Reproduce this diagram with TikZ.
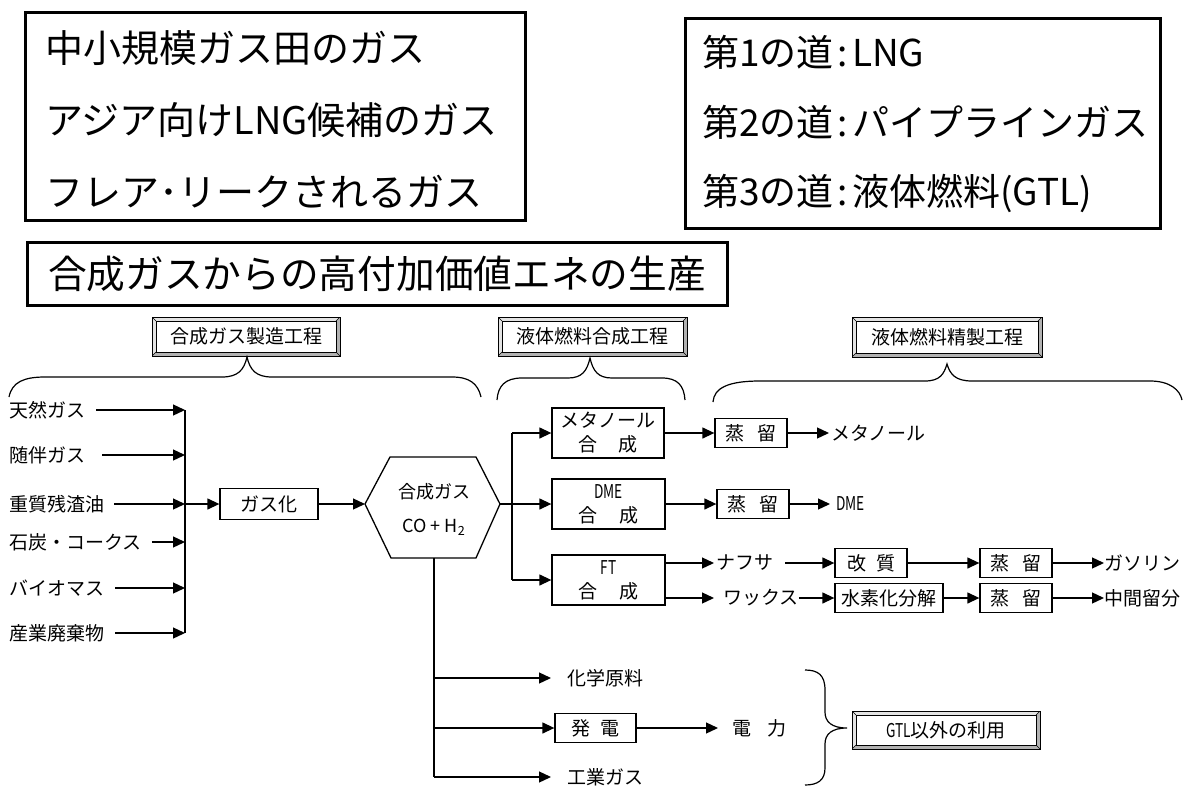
\documentclass[tikz,border=0pt]{standalone}
\usepackage{fontspec}
\setmainfont{Noto Sans CJK JP}
\usetikzlibrary{arrows.meta}
\newcommand\fsz[2]{\fontsize{#1}{#2}\selectfont}
\newcommand\narrow[1]{\scalebox{0.72}[1]{#1}}
\newcommand\colonsp{\hspace{4pt}:\hspace{4pt}}
\begin{document}
\begin{tikzpicture}[x=1pt,y=-1pt,
  bigbox/.style={draw, line width=3pt, inner sep=0pt},
  box/.style={draw, line width=1.3pt, inner sep=0pt, font=\fsz{19}{24}, align=center},
  lab/.style={inner sep=0pt, anchor=west, font=\fsz{19}{24}},
  big/.style={inner sep=0pt, anchor=west},
  ln/.style={line width=1.3pt},
  arr/.style={line width=1.3pt, -{Triangle[length=12pt,width=11pt]}},
  brace/.style={line width=1.2pt},
  bevel/.style={draw=black, line width=1pt, fill=gray!22, inner sep=0pt, font=\fsz{19}{24},
    path picture={
      \fill[gray!60] (path picture bounding box.south west) -- (path picture bounding box.south east)
        -- (path picture bounding box.north east) -- ([shift={(-4pt,-4pt)}]path picture bounding box.north east)
        -- ([shift={(-4pt,4pt)}]path picture bounding box.south east) -- ([shift={(4pt,4pt)}]path picture bounding box.south west) -- cycle;
      \draw[line width=0.9pt, fill=white] ([shift={(4pt,4pt)}]path picture bounding box.south west) rectangle ([shift={(-4pt,-4pt)}]path picture bounding box.north east);
      \draw[line width=0.6pt] (path picture bounding box.south west) -- ++(4pt,4pt)
        (path picture bounding box.north west) -- ++(4pt,-4pt)
        (path picture bounding box.north east) -- ++(-4pt,-4pt)
        (path picture bounding box.south east) -- ++(-4pt,4pt);
    }}
]
\useasboundingbox (0,0) rectangle (1184,787);

% top boxes
\node[bigbox, minimum width=500pt, minimum height=208pt] (tl) at (275,116) {};
\node[big, font=\fsz{38}{44}] (tl1) at (45,48) {中小規模ガス田のガス};
\node[big, font=\fsz{38}{44}] (tl2) at (45,120) {アジア向けLNG候補のガス};
\node[big, font=\fsz{38}{44}] (tl3) at (45,192) {フレア･リークされるガス};

\node[bigbox, minimum width=475pt, minimum height=210pt] (tr) at (922.5,123) {};
\node[big, font=\fsz{37}{44}] (tr1) at (702,52) {第1の道\colonsp LNG};
\node[big, font=\fsz{37}{44}] (tr2) at (702,122) {第2の道\colonsp パイプラインガス};
\node[big, font=\fsz{37}{44}] (tr3) at (702,193) {第3の道\colonsp 液体燃料(GTL)};

\node[bigbox, minimum width=700pt, minimum height=63pt, font=\fsz{38.7}{44}] (title) at (377,273.5) {合成ガスからの高付加価値エネの生産};

% process headers
\node[bevel, minimum width=188pt, minimum height=39pt] (p1) at (246,336.5) {合成ガス製造工程};
\node[bevel, minimum width=189pt, minimum height=39pt] (p2) at (592.5,336.5) {液体燃料合成工程};
\node[bevel, minimum width=190pt, minimum height=40pt] (p3) at (947,337) {液体燃料精製工程};
\node[bevel, minimum width=188pt, minimum height=38pt] (p4) at (946,730) {\narrow{GTL}以外の利用};

% braces
\draw[brace] (9,397) .. controls (12,382) and (24,377) .. (45,377) -- (222,377)
  .. controls (238,377) and (244,370) .. (247,357) .. controls (250,370) and (256,377) .. (272,377)
  -- (452,377) .. controls (470,377) and (478,384) .. (481,397);
\draw[brace] (497,400) .. controls (498,386) and (505,378) .. (522,378) -- (568,378)
  .. controls (582,378) and (587,371) .. (590,358) .. controls (593,371) and (598,378) .. (612,378)
  -- (662,378) .. controls (678,378) and (684,386) .. (685,400);
\draw[brace] (713,402) .. controls (714,388) and (728,381) .. (760,381) -- (925,381)
  .. controls (940,381) and (944,374) .. (947,364) .. controls (950,374) and (955,381) .. (972,381)
  -- (1150,381) .. controls (1170,381) and (1180,390) .. (1182,400);
\draw[brace] (805,670) .. controls (818,670) and (825,675) .. (825,690) -- (825,712)
  .. controls (825,722) and (832,728) .. (847,728) .. controls (832,728) and (825,734) .. (825,744)
  -- (825,768) .. controls (825,780) and (818,785) .. (805,785);

% inputs
\node[lab] (in1) at (9,410) {天然ガス};
\node[lab] (in2) at (9,455) {随伴ガス};
\node[lab] (in3) at (9,504) {重質残渣油};
\node[lab] (in4) at (9,542) {石炭・コークス};
\node[lab] (in5) at (9,588) {バイオマス};
\node[lab] (in6) at (9,633) {産業廃棄物};
\coordinate (b1) at (185,410);
\coordinate (b2) at (185,455);
\coordinate (b3) at (185,504);
\coordinate (b4) at (185,542);
\coordinate (b5) at (185,588);
\coordinate (b6) at (185,633);
\draw[arr] ([xshift=11pt]in1.east) -- (b1);
\draw[arr] ([xshift=17pt]in2.east) -- (b2);
\draw[arr] ([xshift=10pt]in3.east) -- (b3);
\draw[arr] ([xshift=10pt]in4.east) -- (b4);
\draw[arr] ([xshift=11pt]in5.east) -- (b5);
\draw[arr] ([xshift=11pt]in6.east) -- (b6);
\draw[ln] (b1) -- (b6);

\node[box, minimum width=98pt, minimum height=31pt] (gas) at (269,504) {ガス化};
\draw[arr] (b3) -- (gas.west);

% hexagon
\coordinate (hexL) at (365,504);
\coordinate (hexR) at (500,504);
\coordinate (hexB) at (434,558);
\draw[line width=1.3pt] (hexL) -- (390,457) -- (476,457) -- (hexR) -- (476,558) -- (391,558) -- cycle;
\node[inner sep=0pt, font=\fsz{18}{22}] (hx1) at (434,492) {合成ガス};
\node[inner sep=0pt, font=\fsz{18}{22}] (hx2) at (434,527) {CO + H\textsubscript{2}};
\draw[arr] (gas.east) -- (hexL);

% lower branch
\coordinate (v1) at (434,678);
\coordinate (v2) at (434,728);
\coordinate (v3) at (434,777);
\draw[ln] (hexB) -- (v3);
\node[lab] (chem) at (567,678) {化学原料};
\node[box, minimum width=81pt, minimum height=29pt] (pw) at (595.5,728) {発\hspace{10pt}電};
\node[lab] (elec) at (732,728) {電\hspace{16pt}力};
\node[lab] (ind) at (567,777) {工業ガス};
\draw[arr] (v1) -- ([xshift=-16pt]chem.west);
\draw[arr] (v2) -- (pw.west);
\draw[arr] (pw.east) -- ([xshift=-14pt]elec.west);
\draw[arr] (v3) -- ([xshift=-16pt]ind.west);

% synthesis
\node[box, minimum width=112pt, minimum height=50pt] (meth) at (608,433) {メタノール\\合\hspace{22pt}成};
\node[box, minimum width=113pt, minimum height=50pt] (dme) at (608.5,504) {\narrow{DME}\\合\hspace{22pt}成};
\node[box, minimum width=113pt, minimum height=50pt] (ft) at (608.5,580) {\narrow{FT}\\合\hspace{22pt}成};
\coordinate (r1) at (512,433);
\coordinate (r3) at (512,580);
\draw[arr] (hexR) -- (dme.west);
\draw[ln] (r1) -- (r3);
\draw[arr] (r1) -- (meth.west);
\draw[arr] (r3) -- (ft.west);

% refining
\node[box, minimum width=72pt, minimum height=29pt] (d1) at (751,433) {蒸\hspace{14pt}留};
\node[box, minimum width=72pt, minimum height=29pt] (d2) at (753,504) {蒸\hspace{14pt}留};
\node[lab] (mo) at (831,433) {メタノール};
\node[lab] (dmo) at (836,504) {\narrow{DME}};
\draw[arr] (meth.east) -- (d1.west);
\draw[arr] (d1.east) -- ([xshift=-2pt]mo.west);
\draw[arr] (dme.east) -- (d2.west);
\draw[arr] (d2.east) -- ([xshift=-6pt]dmo.west);

\coordinate (fo1) at ([yshift=17pt]ft.east);
\coordinate (fo2) at ([yshift=-18pt]ft.east);
\node[lab] (naph) at (716,563) {ナフサ};
\node[lab] (wax) at (723,598) {ワックス};
\node[box, minimum width=72pt, minimum height=29pt] (ref) at (871,563) {改\hspace{10pt}質};
\node[box, minimum width=108pt, minimum height=29pt] (hc) at (889,598) {水素化分解};
\node[box, minimum width=72pt, minimum height=29pt] (d3) at (1016,563) {蒸\hspace{14pt}留};
\node[box, minimum width=72pt, minimum height=29pt] (d4) at (1016,598) {蒸\hspace{14pt}留};
\node[lab] (gso) at (1104,563) {ガソリン};
\node[lab] (mid) at (1104,598) {中間留分};
\draw[arr] (fo1) -- ([xshift=-2pt]naph.west);
\draw[arr] (fo2) -- ([xshift=-9pt]wax.west);
\draw[arr] ([xshift=12pt]naph.east) -- (ref.west);
\draw[arr] (wax.east) -- (hc.west);
\draw[arr] (ref.east) -- (d3.west);
\draw[arr] (hc.east) -- (d4.west);
\draw[arr] (d3.east) -- (gso.west);
\draw[arr] (d4.east) -- (mid.west);
\end{tikzpicture}
\end{document}
